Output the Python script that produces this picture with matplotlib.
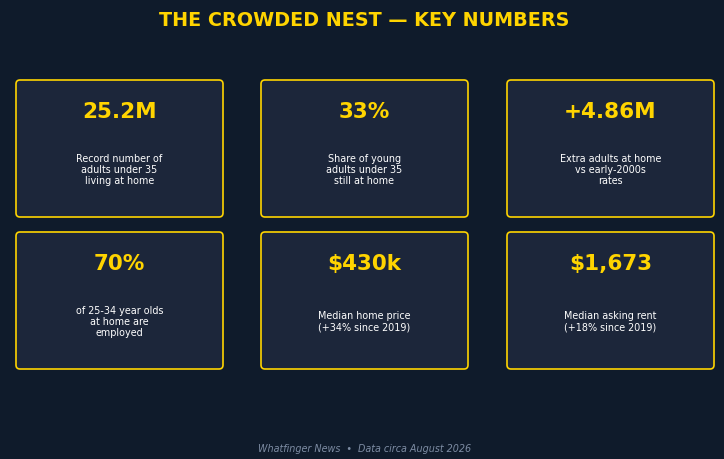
import matplotlib
matplotlib.use("Agg")
import matplotlib.pyplot as plt
from matplotlib.patches import FancyBboxPatch

# card contents
values = ["25.2M", "33%", "+4.86M", "70%", "$430k", "$1,673"]
labels = [
    "Record number of\nadults under 35\nliving at home",
    "Share of young\nadults under 35\nstill at home",
    "Extra adults at home\nvs early-2000s\nrates",
    "of 25-34 year olds\nat home are\nemployed",
    "Median home price\n(+34% since 2019)",
    "Median asking rent\n(+18% since 2019)",
]
title = "THE CROWDED NEST \u2014 KEY NUMBERS"
footer = "Whatfinger News  \u2022  Data circa August 2026"

bg = "#0f1b2b"
card_bg = "#1c263a"
gold = "#ffd400"
W, H = 724, 459

fig = plt.figure(figsize=(7.24, 4.59), dpi=100)
fig.patch.set_facecolor(bg)
ax = fig.add_axes([0, 0, 1, 1])
ax.set_xlim(0, W)
ax.set_ylim(H, 0)
ax.axis("off")

col_x = [16, 261, 507]
row_y = [80, 232]
cw, ch = 207, 137

for i, (v, lab) in enumerate(zip(values, labels)):
    x = col_x[i % 3]
    y = row_y[i // 3]
    box = FancyBboxPatch((x, y), cw, ch, boxstyle="round,pad=0,rounding_size=4",
                         facecolor=card_bg, edgecolor=gold, linewidth=1.2)
    ax.add_patch(box)
    ax.text(x + cw / 2, y + 32, v, color=gold, fontsize=15.5, fontweight="bold",
            ha="center", va="center")
    ax.text(x + cw / 2, y + 90, lab, color="white", fontsize=6.9,
            ha="center", va="center", linespacing=1.15)

ax.text(364.5, 21, title, color=gold, fontsize=13.8, fontweight="bold",
        ha="center", va="center")
ax.text(364.5, 449, footer, color="#7d8ca3", fontsize=6.9, style="italic",
        ha="center", va="center")

fig.savefig("out.png", dpi=100, facecolor=bg)
